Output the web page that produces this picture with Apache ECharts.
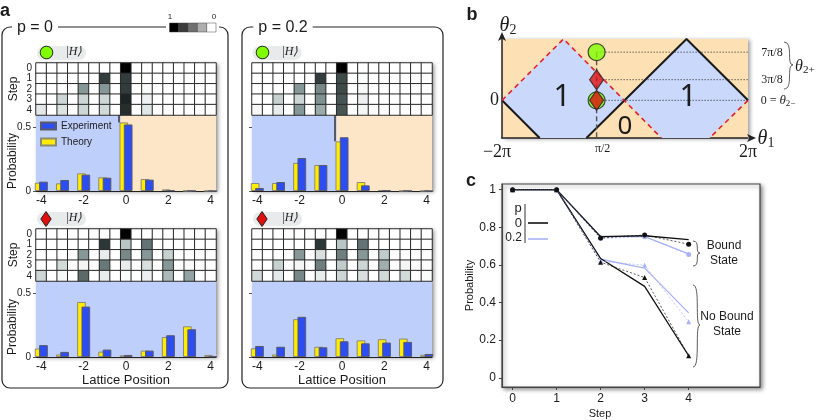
<!DOCTYPE html>
<html>
<head>
<meta charset="utf-8">
<style>html,body{margin:0;padding:0;background:#fff}#chart{width:817px;height:420px}</style>
<script src="https://cdn.jsdelivr.net/npm/echarts@6/dist/echarts.min.js"></script>
</head>
<body>
<div id="chart"></div>
<script>
const positions = [-4, -3, -2, -1, 0, 1, 2, 3, 4]
const columns = [-4, -3.5, -3, -2.5, -2, -1.5, -1, -0.5, 0, 0.5, 1, 1.5, 2, 2.5, 3, 3.5, 4]
const steps = ["0", "1", "2", "3", "4"]

// panel a, bar heights
const theoryP0Green = [0.065, 0.06, 0.138, 0.107, 0.536, 0.094, 0.013, 0.002, 0.001]
const expP0Green = [0.073, 0.086, 0.128, 0.104, 0.52, 0.089, 0.005, 0.001, 0]
const theoryP2Green = [0.0625, 0.0625, 0.22, 0.203, 0.388, 0.07, 0.008, 0.001, 0.001]
const expP2Green = [0.023, 0.07, 0.258, 0.203, 0.42, 0.044, 0.005, 0.001, 0]
const theoryP0Red = [0.066, 0.02, 0.43, 0.042, 0.013, 0.05, 0.156, 0.24, 0.016]
const expP0Red = [0.093, 0.04, 0.394, 0.058, 0.016, 0.05, 0.17, 0.217, 0.005]
const theoryP2Red = [0.068, 0.02, 0.296, 0.08, 0.147, 0.13, 0.139, 0.144, 0.018]
const expP2Red = [0.086, 0.08, 0.314, 0.076, 0.123, 0.107, 0.113, 0.118, 0.024]

// panel a, heat cells, one row per step
const heatP0Green = [
  [0, 0, 0, 0, 0, 0, 0, 0, 1, 0, 0, 0, 0, 0, 0, 0, 0],
  [0, 0, 0, 0, 0, 0, 0.8, 0, 0.8, 0, 0, 0, 0, 0, 0, 0, 0],
  [0, 0, 0, 0, 0.5, 0, 0.5, 0, 0.8, 0, 0.03, 0, 0, 0, 0, 0, 0],
  [0, 0, 0.22, 0, 0.22, 0, 0.22, 0, 0.88, 0, 0.07, 0, 0, 0, 0, 0, 0],
  [0.12, 0, 0.15, 0, 0.22, 0, 0.2, 0, 0.85, 0, 0.13, 0, 0, 0, 0, 0, 0],
]
const heatP2Green = [
  [0, 0, 0, 0, 0, 0, 0, 0, 1, 0, 0, 0, 0, 0, 0, 0, 0],
  [0, 0, 0, 0, 0, 0, 0.8, 0, 0.75, 0, 0.02, 0, 0, 0, 0, 0, 0],
  [0, 0, 0, 0, 0.5, 0, 0.55, 0, 0.75, 0, 0.04, 0, 0, 0, 0, 0, 0],
  [0, 0, 0.25, 0, 0.22, 0, 0.52, 0, 0.72, 0, 0.08, 0, 0, 0, 0, 0, 0],
  [0.03, 0, 0.1, 0, 0.5, 0, 0.42, 0, 0.72, 0, 0.05, 0, 0, 0, 0, 0, 0],
]
const heatP0Red = [
  [0, 0, 0, 0, 0, 0, 0, 0, 1, 0, 0, 0, 0, 0, 0, 0, 0],
  [0, 0, 0, 0, 0, 0, 0.82, 0, 0.3, 0, 0.62, 0, 0, 0, 0, 0, 0],
  [0, 0, 0, 0, 0.5, 0, 0.1, 0, 0.55, 0, 0.5, 0, 0.25, 0, 0, 0, 0],
  [0, 0, 0.2, 0, 0.05, 0, 0.6, 0, 0.1, 0, 0.17, 0, 0.5, 0, 0.03, 0, 0],
  [0.22, 0, 0.04, 0, 0.65, 0, 0.1, 0, 0.02, 0, 0.08, 0, 0.35, 0, 0.45, 0, 0],
]
const heatP2Red = [
  [0, 0, 0, 0, 0, 0, 0, 0, 1, 0, 0, 0, 0, 0, 0, 0, 0],
  [0, 0, 0, 0, 0, 0, 0.82, 0, 0.3, 0, 0.62, 0, 0, 0, 0, 0, 0],
  [0, 0, 0, 0, 0.5, 0, 0.17, 0, 0.58, 0, 0.5, 0, 0.27, 0, 0, 0, 0],
  [0, 0, 0.25, 0, 0.05, 0, 0.58, 0, 0.27, 0, 0.22, 0, 0.4, 0, 0.05, 0, 0],
  [0.2, 0, 0.12, 0, 0.55, 0, 0.1, 0, 0.22, 0, 0.17, 0, 0.2, 0, 0.2, 0, 0.02],
]

// panel b, phase diagram in (theta1, theta2)
const zoneLeft = [[-6.283, 0], [-3.142, 3.5], [0, 0], [-1.97, -2.15], [-4.36, -2.15]]
const zoneRight = [[0, 0], [3.142, 3.5], [6.283, 0], [4.32, -2.15], [1.86, -2.15]]
const blackEdges = [
  [[-6.283, 0], [-4.36, -2.15]],
  [[-1.97, -2.15], [3.142, 3.5], [6.283, 0]],
]
const redEdges = [
  [[-6.283, 0], [-3.142, 3.5], [1.86, -2.15]],
  [[6.283, 0], [4.32, -2.15]],
]
const theta1Probe = -1.45
const theta2Green = [2.749, 0]
const theta2Red = [1.178, 0]

// panel c
const stepValues = [0, 1, 2, 3, 4]
const boundTheoryP0 = [1, 1, 0.75, 0.755, 0.734]
const boundExpP0 = [1, 1, 0.743, 0.759, 0.71]
const boundTheoryP2 = [1, 1, 0.75, 0.75, 0.659]
const boundExpP2 = [1, 1, 0.74, 0.75, 0.655]
const freeTheoryP0 = [1, 1, 0.634, 0.486, 0.117]
const freeExpP0 = [1, 1, 0.614, 0.533, 0.117]
const freeTheoryP2 = [1, 1, 0.63, 0.583, 0.345]
const freeExpP2 = [1, 1, 0.62, 0.598, 0.298]

const SANS = "Liberation Sans"
const SERIF = "Liberation Serif"
const INK = "#1c1c1c"
const BLUE_BG = "#bfcffb"
const PEACH_BG = "#fde6c8"
const LIGHT_BLUE = "#a9b2f4"

const panels = [
  { heat: heatP0Green, theory: theoryP0Green, exp: expP0Green, left: 36, top: 63, labels: true, half: true },
  { heat: heatP2Green, theory: theoryP2Green, exp: expP2Green, left: 252, top: 63, labels: false, half: true },
  { heat: heatP0Red, theory: theoryP0Red, exp: expP0Red, left: 36, top: 229, labels: true, half: false },
  { heat: heatP2Red, theory: theoryP2Red, exp: expP2Red, left: 252, top: 229, labels: false, half: false },
]

const grids = []
const xAxes = []
const yAxes = []
const series = []
const heatIdx = []

panels.forEach((p, i) => {
  const gHeat = grids.length
  grids.push({ left: p.left, top: p.top, width: 180, height: 52, show: true, backgroundColor: "#fff", borderWidth: 0, shadowBlur: 4, shadowColor: "rgba(0,0,0,0.45)", shadowOffsetX: 2, shadowOffsetY: 1 })
  grids.push({ left: p.left, top: p.top + 52, width: 180, height: 76, show: true, backgroundColor: BLUE_BG, borderWidth: 0, shadowBlur: 4, shadowColor: "rgba(0,0,0,0.45)", shadowOffsetX: 2, shadowOffsetY: 1 })

  xAxes.push({ gridIndex: gHeat, type: "category", data: columns.map(String), axisLine: { show: false }, axisTick: { show: false }, axisLabel: { show: false } })
  yAxes.push({
    gridIndex: gHeat, type: "category", data: steps, inverse: true,
    axisLine: { show: false }, axisTick: { show: false },
    axisLabel: { show: p.labels, interval: 0, margin: 4, fontFamily: SANS, fontSize: 10, color: INK },
    name: p.labels ? "Step" : "", nameLocation: "middle", nameGap: 16,
    nameTextStyle: { fontFamily: SANS, fontSize: 12, color: INK },
  })
  xAxes.push({
    gridIndex: gHeat + 1, type: "value", min: -4.25, max: 4.25,
    splitLine: { show: false },
    axisLine: { onZero: false, lineStyle: { color: "#222", width: 1.2 } },
    axisTick: { show: false },
    axisLabel: { customValues: [-4, -2, 0, 2, 4], margin: 4, fontFamily: SANS, fontSize: 12, color: INK },
    name: i > 1 ? "Lattice Position" : "", nameLocation: "middle", nameGap: 14,
    nameTextStyle: { fontFamily: SANS, fontSize: 13, color: INK },
  })
  yAxes.push({
    gridIndex: gHeat + 1, type: "value", min: 0, max: 0.594,
    splitLine: { show: false }, axisLine: { show: false, onZero: false },
    axisTick: { show: true, length: 3, customValues: [0, 0.5], lineStyle: { color: "#555" } },
    axisLabel: { show: p.labels, customValues: [0, 0.5], margin: 5, fontFamily: SANS, fontSize: 10, color: INK },
    name: p.labels ? "Probability" : "", nameLocation: "middle", nameGap: 17, nameMoveOverlap: false,
    nameTextStyle: { fontFamily: SANS, fontSize: 12, color: INK, padding: [0, 16, 0, 0] },
  })

  const cells = []
  p.heat.forEach((row, r) => row.forEach((v, c) => cells.push([c, r, v])))
  heatIdx.push(series.length)
  series.push({
    type: "heatmap", xAxisIndex: gHeat, yAxisIndex: gHeat, data: cells, silent: true,
    itemStyle: { borderColor: "#2a2a2a", borderWidth: 1 },
  })

  const bar = { type: "bar", xAxisIndex: gHeat + 1, yAxisIndex: gHeat + 1, barWidth: 8.7, barGap: "-50%", silent: true }
  const theorySeries = {
    ...bar, name: "Theory",
    data: positions.map((x, k) => [x, p.theory[k]]),
    itemStyle: { color: "#ffec00", borderColor: "#8a8a7a", borderWidth: 1 },
  }
  if (p.half) {
    theorySeries.markArea = { silent: true, itemStyle: { color: PEACH_BG }, data: [[{ xAxis: -0.25 }, { xAxis: 4.25 }]] }
    theorySeries.markLine = { silent: true, symbol: "none", label: { show: false }, lineStyle: { color: "#333", width: 1.5, type: "solid" }, data: [[{ coord: [-0.25, p.theory[4]] }, { coord: [-0.25, 0.594] }]] }
  }
  series.push(theorySeries)
  series.push({
    ...bar, name: "Experiment",
    data: positions.map((x, k) => [x, p.exp[k]]),
    itemStyle: { color: "#2b4df2", borderColor: "#5a5a6a", borderWidth: 1 },
  })
})

// panel b
const gB = grids.length
grids.push({ left: 502, top: 39, width: 246, height: 99, show: true, backgroundColor: "#fde0b4", borderWidth: 0, shadowBlur: 4, shadowColor: "rgba(0,0,0,0.4)", shadowOffsetX: 2, shadowOffsetY: 1 })
const bLabels = { "-6.283": "{bigL|\u22122\u03c0}", "-1.45": "{small|\u03c0/2}", "6.283": "{big|2\u03c0}" }
xAxes.push({
  gridIndex: gB, type: "value", min: -6.283, max: 6.283, splitLine: { show: false },
  axisLine: { onZero: false, symbol: ["none", "arrow"], symbolSize: [6, 9], symbolOffset: [0, 8], lineStyle: { color: "#222", width: 1.5 } },
  axisTick: { show: false },
  axisLabel: {
    customValues: [-6.283, -1.45, 6.283], margin: 5, formatter: (v) => bLabels[String(v)],
    rich: {
      big: { fontFamily: SERIF, fontSize: 18, color: INK },
      bigL: { fontFamily: SERIF, fontSize: 18, color: INK, padding: [0, 10, 0, 0] },
      small: { fontFamily: SERIF, fontSize: 12, color: INK, padding: [0, 0, 0, 12] },
    },
  },
})
yAxes.push({
  gridIndex: gB, type: "value", min: -2.15, max: 3.5, splitLine: { show: false },
  axisLine: { onZero: false, symbol: ["none", "arrow"], symbolSize: [6, 9], symbolOffset: [0, 7], lineStyle: { color: "#222", width: 1.5 } },
  axisTick: { show: false },
  axisLabel: { customValues: [0], margin: 3, fontFamily: SERIF, fontSize: 18, color: INK },
})
series.push({
  type: "custom", xAxisIndex: gB, yAxisIndex: gB, silent: true, data: [0, 1],
  renderItem: (params, api) => ({
    type: "polygon",
    shape: { points: (api.value(0) === 0 ? zoneLeft : zoneRight).map((pt) => api.coord(pt)) },
    style: { fill: "#c9d8fb" },
  }),
  encode: { x: -1, y: -1 },
})
const bLine = { type: "line", xAxisIndex: gB, yAxisIndex: gB, showSymbol: false, silent: true }
blackEdges.forEach((d) => series.push({ ...bLine, data: d, lineStyle: { color: "#1a1a1a", width: 2 } }))
redEdges.forEach((d) => series.push({ ...bLine, data: d, lineStyle: { color: "#e8202a", width: 1.6, type: [5, 4] } }))
series.push({ ...bLine, data: [[theta1Probe, theta2Green[0]], [theta1Probe, -2.15]], lineStyle: { color: "#555", width: 1.4, type: [5, 3] } })
;[theta2Green[0], theta2Red[0], 0].forEach((y) => series.push({
  ...bLine, clip: false, data: [[theta1Probe, y], [6.62, y]], lineStyle: { color: "#222", width: 1, type: [1, 2] },
}))
series.push({
  type: "scatter", xAxisIndex: gB, yAxisIndex: gB, silent: true, symbol: "circle", symbolSize: 17,
  data: theta2Green.map((y) => [theta1Probe, y]),
  itemStyle: { color: "#7fff00", borderColor: "#222", borderWidth: 1.2 }, z: 5,
})
series.push({
  type: "scatter", xAxisIndex: gB, yAxisIndex: gB, silent: true, symbol: "diamond", symbolSize: [14, 20],
  data: theta2Red.map((y) => [theta1Probe, y]),
  itemStyle: { color: "#e01010", borderColor: "#222", borderWidth: 1.2 }, z: 6,
})

// panel c
const gC = grids.length
grids.push({ left: 502, top: 184, width: 258, height: 208, show: true, backgroundColor: "#fff", borderColor: "#444", borderWidth: 1.2, shadowBlur: 4, shadowColor: "rgba(0,0,0,0.45)", shadowOffsetX: 2, shadowOffsetY: 2 })
xAxes.push({
  gridIndex: gC, type: "value", min: -0.24, max: 5.62, splitLine: { show: false },
  axisLine: { onZero: false, lineStyle: { color: "#444", width: 1.2 } },
  axisTick: { length: 3, customValues: stepValues, lineStyle: { color: "#444" } },
  axisLabel: { customValues: stepValues, margin: 6, fontFamily: SANS, fontSize: 12, color: INK },
  name: "Step", nameLocation: "middle", nameGap: 21, nameTextStyle: { fontFamily: SANS, fontSize: 11, color: INK, padding: [0, 62, 0, 0] },
})
const cTicks = [0, 0.2, 0.4, 0.6, 0.8, 1]
yAxes.push({
  gridIndex: gC, type: "value", min: -0.049, max: 1.03, splitLine: { show: false },
  axisLine: { onZero: false, lineStyle: { color: "#444", width: 1.2 } },
  axisTick: { length: 3, customValues: cTicks, lineStyle: { color: "#444" } },
  axisLabel: { customValues: cTicks, margin: 6, fontFamily: SANS, fontSize: 12, color: INK },
  name: "Probability", nameLocation: "middle", nameGap: 19, nameTextStyle: { fontFamily: SANS, fontSize: 11, color: INK },
})
const cSeries = { type: "line", xAxisIndex: gC, yAxisIndex: gC, silent: true }
const cSolid = (vals, color) => ({ ...cSeries, data: stepValues.map((x, k) => [x, vals[k]]), showSymbol: false, lineStyle: { color, width: 1.3 }, z: 3 })
const cMarked = (vals, color, symbol) => ({
  ...cSeries, data: stepValues.map((x, k) => [x, vals[k]]), symbol, symbolSize: 5, showAllSymbol: true,
  lineStyle: { color, width: 0.7, type: [2, 2] }, itemStyle: { color, borderWidth: 0 }, z: 4,
})
series.push(cSolid(boundTheoryP2, LIGHT_BLUE), cSolid(freeTheoryP2, LIGHT_BLUE))
series.push(cMarked(boundExpP2, LIGHT_BLUE, "circle"), cMarked(freeExpP2, LIGHT_BLUE, "triangle"))
series.push(cSolid(boundTheoryP0, "#111"), cSolid(freeTheoryP0, "#111"))
series.push(cMarked(boundExpP0, "#111", "circle"), cMarked(freeExpP0, "#111", "triangle"))

// annotations
const txt = (x, y, text, size, extra) => ({
  type: "text", x, y, z: 20, silent: true,
  style: { text, fontFamily: SANS, fontSize: size, fill: INK, align: "center", verticalAlign: "middle", ...extra },
})
const theta = (sub, big) => ({
  rich: {
    t: { fontFamily: SERIF, fontStyle: "italic", fontSize: big, fill: INK },
    s: { fontFamily: SERIF, fontSize: big * 0.7, fill: INK, padding: [big * 0.4, 0, 0, 0] },
  },
  text: "{t|\u03b8}{s|" + sub + "}",
})
const box = (x, w) => ({
  type: "rect", z: 1, silent: true,
  shape: { x, y: 27, width: w, height: 361, r: 8 },
  style: { fill: "none", stroke: "#222", lineWidth: 1.2 },
})
const pill = (x, y) => ({ type: "rect", z: 2, silent: true, shape: { x, y, width: 49, height: 14, r: 7 }, style: { fill: "#e7ebeb" } })
const greenDot = (x, y) => ({ type: "circle", z: 3, silent: true, shape: { cx: x, cy: y, r: 6.3 }, style: { fill: "#7fff00", stroke: "#222", lineWidth: 1 } })
const redDiamond = (x, y) => ({
  type: "polygon", z: 3, silent: true,
  shape: { points: [[x, y - 7.5], [x + 5.2, y], [x, y + 7.5], [x - 5.2, y]] },
  style: { fill: "#e01010", stroke: "#222", lineWidth: 1 },
})
const ket = (x, y) => txt(x, y, "|H\u27e9", 12, { fontFamily: SERIF, fontStyle: "italic" })
const brace = (x, y0, y1, w, tip) => [y0, y1].map((end) => ({
  type: "bezierCurve", z: 5, silent: true,
  shape: { x1: x, y1: end, cpx1: x + w * 1.1, cpy1: end, cpx2: x + w * 0.2, cpy2: tip, x2: x + w, y2: tip },
  style: { fill: "none", stroke: "#333", lineWidth: 0.8 },
}))
const shade = ["#000", "#3a3a3a", "#707070", "#aeaeae", "#fff"]
const legendLine = (y, color) => ({ type: "line", z: 5, silent: true, shape: { x1: 528, y1: y, x2: 548, y2: y }, style: { stroke: color, lineWidth: 1.6 } })

const graphics = [
  box(2, 226), box(242, 201),
  txt(5, 11, "a", 18, { fontWeight: "bold" }),
  txt(472, 15, "b", 18, { fontWeight: "bold" }),
  txt(471, 181, "c", 18, { fontWeight: "bold" }),
  txt(35, 28, "p = 0", 16, { backgroundColor: "#fff", padding: [0, 5] }),
  txt(283, 28, "p = 0.2", 16, { backgroundColor: "#fff", padding: [0, 5] }),
  { type: "rect", z: 6, silent: true, shape: { x: 166, y: 20, width: 53, height: 14 }, style: { fill: "#fff" } },
  ...shade.map((c, i) => ({ type: "rect", z: 7, silent: true, shape: { x: 169.5 + i * 9.3, y: 23, width: 9.3, height: 9 }, style: { fill: c, stroke: "#444", lineWidth: 0.5 } })),
  txt(170, 17, "1", 8), txt(214, 17, "0", 8),
  pill(37, 46), greenDot(46.5, 52.5), ket(74, 52),
  pill(252.5, 46), greenDot(262.5, 52.5), ket(290, 52),
  pill(37, 212), redDiamond(46, 219), ket(74, 218),
  pill(253, 212), redDiamond(262, 219), ket(290, 218),
  // panel b
  txt(508, 26, "", 20, theta("2", 20)),
  txt(766, 139, "", 20, theta("1", 20)),
  txt(562, 97, "1", 30, { fontFamily: "Noto Sans" }),
  txt(688, 97, "1", 30, { fontFamily: "Noto Sans" }),
  txt(625, 127, "0", 26, { fontFamily: "Noto Sans" }),
  txt(772, 53, "7\u03c0/8", 12, { fontFamily: SERIF }),
  txt(772, 80, "3\u03c0/8", 12, { fontFamily: SERIF }),
  txt(778, 101, "", 12, { rich: { n: { fontFamily: SERIF, fontSize: 12, fill: INK }, t: { fontFamily: SERIF, fontStyle: "italic", fontSize: 13, fill: INK }, s: { fontFamily: SERIF, fontSize: 9, fill: INK, padding: [5, 0, 0, 0] } }, text: "{n|0 = }{t|\u03b8}{s|2\u2212}" }),
  ...brace(784, 42, 89, 9, 65),
  txt(805, 67, "", 16, theta("2+", 16)),
  // panel c
  txt(518, 208, "p", 13),
  txt(522, 223, "0", 13, { align: "right" }),
  txt(522, 238, "0.2", 12, { align: "right" }),
  { type: "line", z: 5, silent: true, shape: { x1: 525, y1: 204, x2: 525, y2: 243 }, style: { stroke: "#555", lineWidth: 1.2 } },
  legendLine(223, "#111"), legendLine(239, LIGHT_BLUE),
  txt(724, 246, "Bound", 12), txt(724, 261, "State", 12),
  txt(727, 317, "No Bound", 12), txt(727, 332, "State", 12),
  ...brace(693, 241, 266, 7, 253),
  ...brace(693, 285, 367, 7, 325),
]

const chart = echarts.init(document.getElementById("chart"), null, { renderer: "canvas" })
chart.setOption({
  animation: false,
  backgroundColor: "#fff",
  grid: grids,
  xAxis: xAxes,
  yAxis: yAxes,
  visualMap: {
    show: false, type: "continuous", min: 0, max: 1, seriesIndex: heatIdx,
    inRange: { color: ["#ffffff", "#c6d0cf", "#869797", "#3e4b4b", "#000000"] },
  },
  legend: {
    left: 40, top: 120, padding: 0, orient: "vertical", icon: "rect", itemWidth: 15, itemHeight: 7, itemGap: 4, selectedMode: false,
    data: ["Experiment", "Theory"],
    textStyle: { fontFamily: SANS, fontSize: 10, color: INK, lineHeight: 12 },
  },
  graphic: { elements: graphics },
  series,
})
</script>
</body>
</html>
